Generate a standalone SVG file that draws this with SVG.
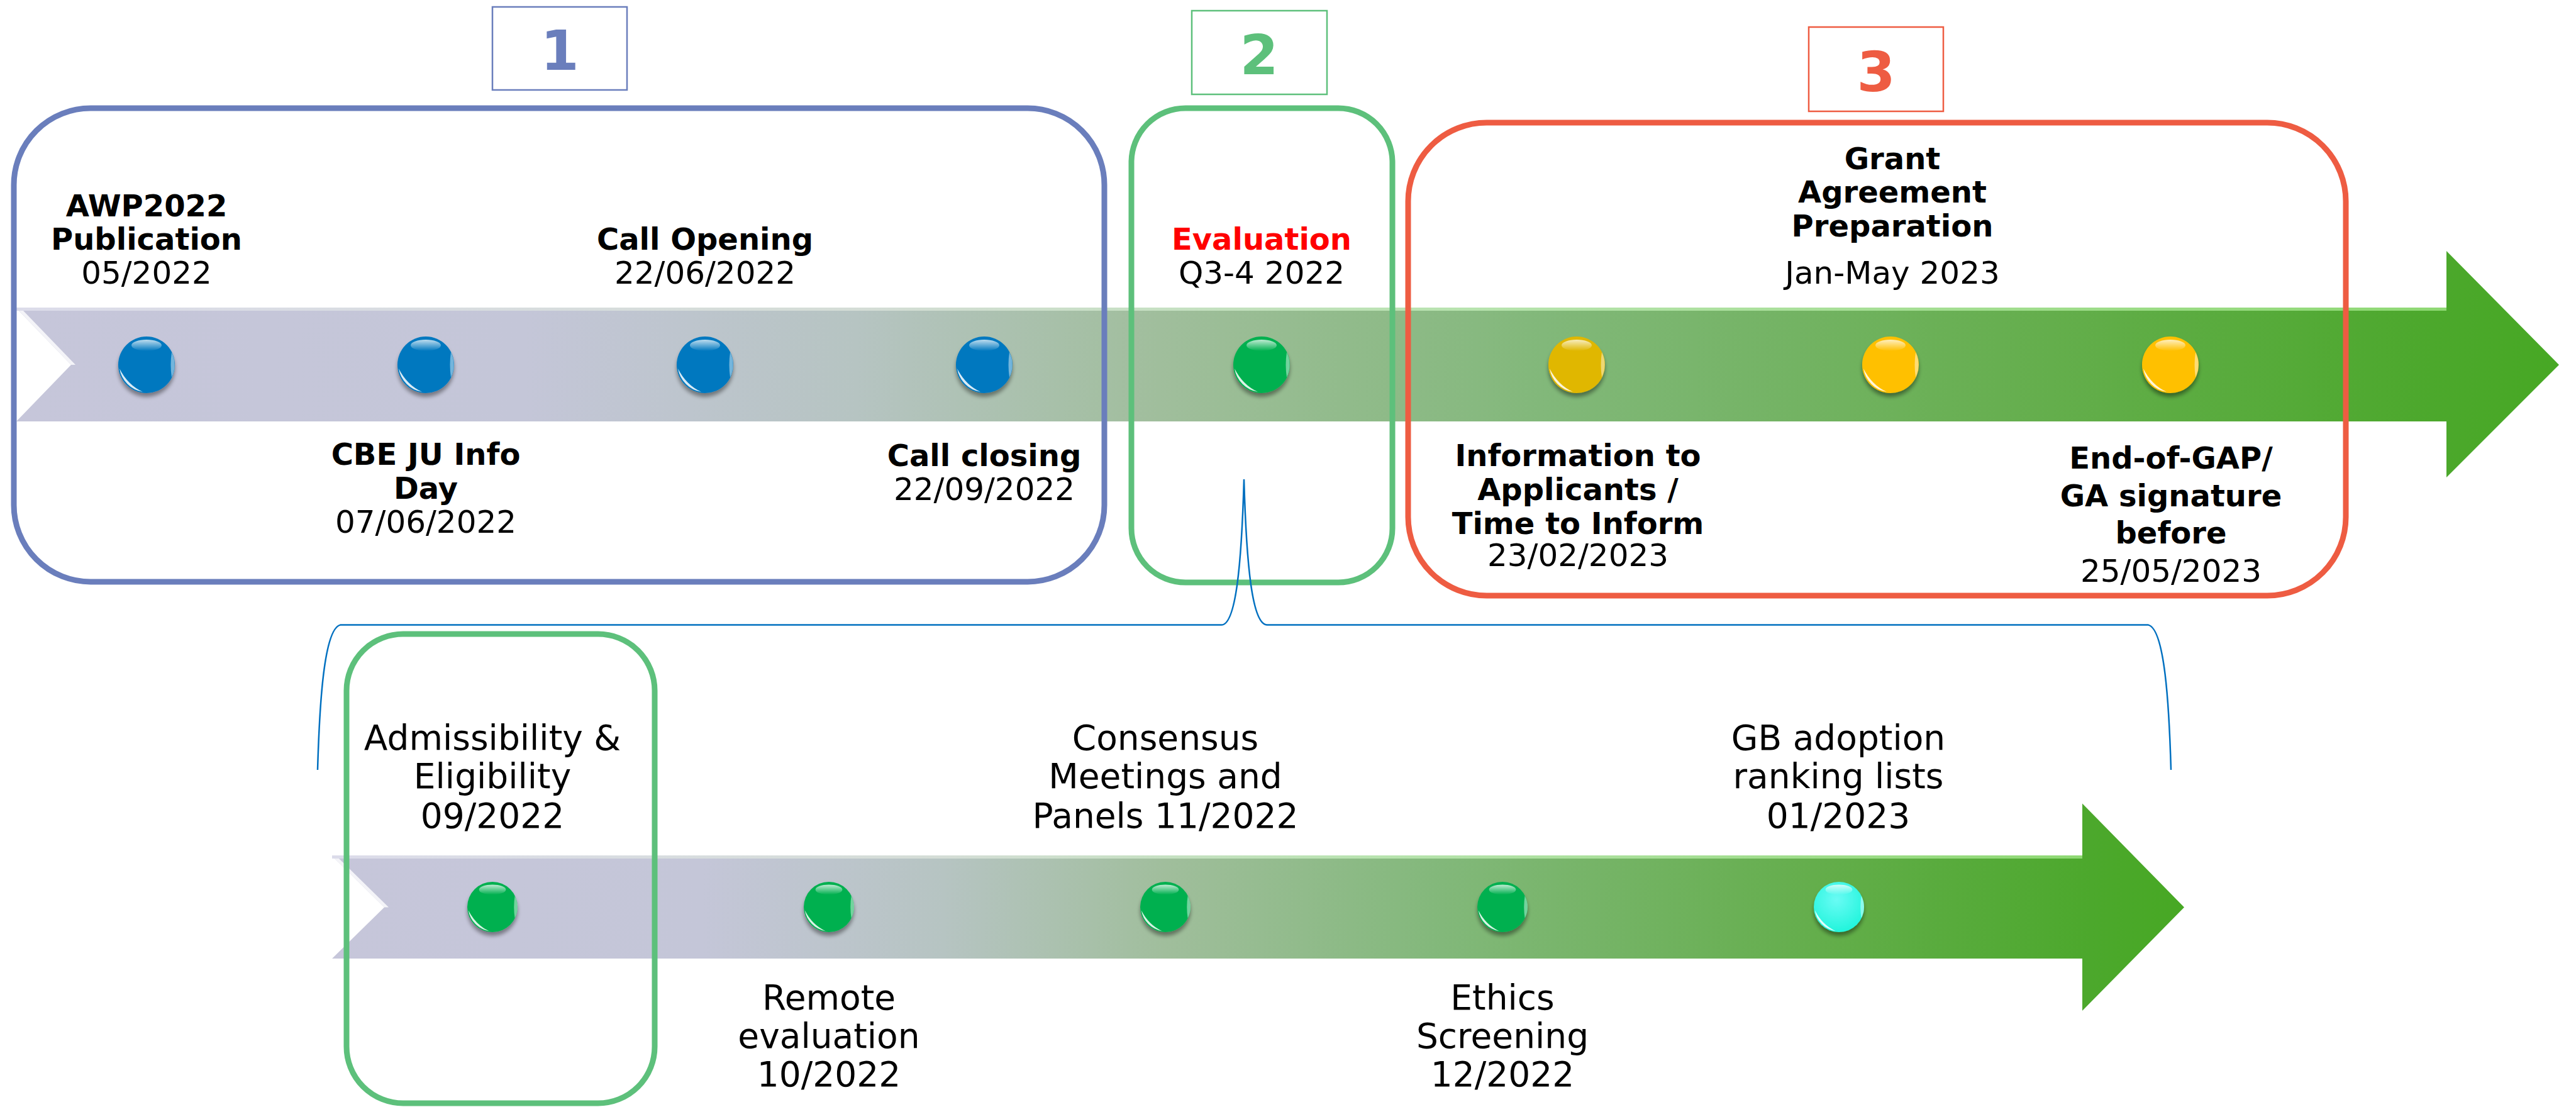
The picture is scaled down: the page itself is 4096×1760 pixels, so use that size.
<svg xmlns="http://www.w3.org/2000/svg" width="4096" height="1760" viewBox="0 0 4096 1760">
<defs>
  <linearGradient id="arrowGrad" x1="0" y1="0" x2="1" y2="0">
    <stop offset="0" stop-color="#C6C6DA"/>
    <stop offset="0.2" stop-color="#C4C6D8"/>
    <stop offset="0.33" stop-color="#B6C4C2"/>
    <stop offset="0.45" stop-color="#A0BE9C"/>
    <stop offset="0.6" stop-color="#82B87A"/>
    <stop offset="0.8" stop-color="#64AE4C"/>
    <stop offset="0.95" stop-color="#4CA82C"/>
    <stop offset="1" stop-color="#47A824"/>
  </linearGradient>
  <linearGradient id="edgeGrad" x1="0" y1="0" x2="1" y2="0">
    <stop offset="0" stop-color="#DCDCEA"/>
    <stop offset="0.35" stop-color="#D4DDD6"/>
    <stop offset="0.6" stop-color="#B7E3AE"/>
    <stop offset="1" stop-color="#8ED873"/>
  </linearGradient>
  <linearGradient id="topHi" x1="0" y1="0" x2="0" y2="1">
    <stop offset="0" stop-color="#FFFFFF" stop-opacity="0.75"/>
    <stop offset="1" stop-color="#FFFFFF" stop-opacity="0"/>
  </linearGradient>
  <radialGradient id="cyanFill" cx="0.45" cy="0.35" r="0.7">
    <stop offset="0" stop-color="#6AFBF4"/>
    <stop offset="1" stop-color="#1CF4DA"/>
  </radialGradient>
  <filter id="dotShadow" x="-40%" y="-40%" width="180%" height="190%">
    <feGaussianBlur in="SourceAlpha" stdDeviation="3"/>
    <feOffset dy="6" result="o"/>
    <feComponentTransfer in="o" result="s"><feFuncA type="linear" slope="0.4"/></feComponentTransfer>
    <feMerge><feMergeNode in="s"/><feMergeNode in="SourceGraphic"/></feMerge>
  </filter>
  <g id="gloss">
    <ellipse cx="0" cy="-31" rx="24" ry="9" fill="url(#topHi)"/>
    <path d="M-43,6 A45,45 0 0 0 -6,43 Q-30,32 -43,6 Z" fill="#FFFFFF" fill-opacity="0.85"/>
    <path d="M40,-20 A45,45 0 0 1 40,20 Q37,0 40,-20 Z" fill="#FFFFFF" fill-opacity="0.45"/>
  </g>
</defs>
<style>
  .t{font-family:"DejaVu Sans",Verdana,sans-serif;text-anchor:middle;fill:#000000}
  .b{font-weight:bold;font-size:48px}
  .r{font-size:50px}
  .lo{font-size:55px}
  .num{font-family:"DejaVu Sans",Verdana,sans-serif;font-weight:bold;font-size:88px;text-anchor:middle}
  .frame{fill:none;stroke-width:9}
  .nbox{fill:none;stroke-width:2.5}
  .blueDot{fill:#0078BF}
  .greenDot{fill:#00B050}
  .yellowDot{fill:#FFC000}
  .darkYellowDot{fill:#E0B700}
  .cyanDot{fill:url(#cyanFill)}
</style>

<!-- timeline arrows -->
<g id="arrows">
  <path d="M26,490 L3890,490 L3890,399 L4069,580 L3890,759 L3890,670 L26,670 L113,580 Z" fill="url(#arrowGrad)"/>
  <rect x="26" y="489" width="3864" height="5" fill="url(#edgeGrad)"/>
  <path d="M30,494 L113,580 L120,580 L37,494 Z" fill="#FFFFFF" fill-opacity="0.8"/>
  <path d="M528,1361 L3311,1361 L3311,1277.5 L3473,1442.5 L3311,1607 L3311,1524 L528,1524 L611,1442.5 Z" fill="url(#arrowGrad)"/>
  <rect x="528" y="1360" width="2783" height="5" fill="url(#edgeGrad)"/>
  <path d="M532,1365 L611,1442.5 L618,1442.5 L539,1365 Z" fill="#FFFFFF" fill-opacity="0.8"/>
</g>

<!-- phase frames -->
<g id="phase1">
  <rect class="frame" x="22" y="172" width="1734" height="753" rx="122" ry="122" stroke="#6A7EBC"/>
  <rect class="nbox" x="783" y="11" width="214" height="132" stroke="#6A7EBC"/>
  <text class="num" x="890" y="111" fill="#6A7EBC">1</text>
</g>
<g id="phase2">
  <rect class="frame" x="1799" y="172" width="415" height="754" rx="86" ry="86" stroke="#5DC07B"/>
  <rect class="nbox" x="1895" y="17" width="215" height="133" stroke="#5DC07B"/>
  <text class="num" x="2002" y="118" fill="#5DC07B">2</text>
</g>
<g id="phase3">
  <rect class="frame" x="2239" y="195" width="1491" height="752" rx="125" ry="125" stroke="#EE5C42"/>
  <rect class="nbox" x="2876" y="43" width="214" height="134" stroke="#EE5C42"/>
  <text class="num" x="2983" y="145" fill="#EE5C42">3</text>
</g>
<g id="admissibilityFrame">
  <rect class="frame" x="551" y="1008" width="490" height="746" rx="90" ry="90" stroke="#5DC07B"/>
</g>

<!-- connectors -->
<g id="connectors">
  <path d="M505,1224 C508,1120 515,1000 541,993.6 L1942,993.6 C1965,993.6 1974,900 1978,762 C1982,900 1991,993.6 2015,993.6 L3416,993.6 C3442,1000 3449,1120 3452,1224" fill="none" stroke="#0070C0" stroke-width="2.5"/>
</g>

<!-- top timeline events -->
<g id="awp2022">
  <circle class="blueDot" cx="233" cy="580" r="45" filter="url(#dotShadow)"/>
  <use href="#gloss" transform="translate(233,580)"/>
  <text class="t"><tspan class="b" x="233" y="344">AWP2022</tspan><tspan class="b" x="233" y="397">Publication</tspan><tspan class="r" x="233" y="451">05/2022</tspan></text>
</g>
<g id="infoDay">
  <circle class="blueDot" cx="677" cy="580" r="45" filter="url(#dotShadow)"/>
  <use href="#gloss" transform="translate(677,580)"/>
  <text class="t"><tspan class="b" x="677" y="739">CBE JU Info</tspan><tspan class="b" x="677" y="793">Day</tspan><tspan class="r" x="677" y="847">07/06/2022</tspan></text>
</g>
<g id="callOpening">
  <circle class="blueDot" cx="1121" cy="580" r="45" filter="url(#dotShadow)"/>
  <use href="#gloss" transform="translate(1121,580)"/>
  <text class="t"><tspan class="b" x="1121" y="397">Call Opening</tspan><tspan class="r" x="1121" y="451">22/06/2022</tspan></text>
</g>
<g id="callClosing">
  <circle class="blueDot" cx="1565" cy="580" r="45" filter="url(#dotShadow)"/>
  <use href="#gloss" transform="translate(1565,580)"/>
  <text class="t"><tspan class="b" x="1565" y="741">Call closing</tspan><tspan class="r" x="1565" y="795">22/09/2022</tspan></text>
</g>
<g id="evaluation">
  <circle class="greenDot" cx="2006" cy="580" r="45" filter="url(#dotShadow)"/>
  <use href="#gloss" transform="translate(2006,580)"/>
  <text class="t"><tspan class="b" x="2006" y="397" fill="#FF0000">Evaluation</tspan><tspan class="r" x="2006" y="451">Q3-4 2022</tspan></text>
</g>
<g id="informApplicants">
  <circle class="darkYellowDot" cx="2507" cy="580" r="45" filter="url(#dotShadow)"/>
  <use href="#gloss" transform="translate(2507,580)"/>
  <text class="t"><tspan class="b" x="2509" y="741">Information to</tspan><tspan class="b" x="2509" y="795">Applicants /</tspan><tspan class="b" x="2509" y="849">Time to Inform</tspan><tspan class="r" x="2509" y="900">23/02/2023</tspan></text>
</g>
<g id="grantPreparation">
  <circle class="yellowDot" cx="3006" cy="580" r="45" filter="url(#dotShadow)"/>
  <use href="#gloss" transform="translate(3006,580)"/>
  <text class="t"><tspan class="b" x="3009" y="269">Grant</tspan><tspan class="b" x="3009" y="322">Agreement</tspan><tspan class="b" x="3009" y="376">Preparation</tspan><tspan class="r" x="3009" y="451">Jan-May 2023</tspan></text>
</g>
<g id="gaSignature">
  <circle class="yellowDot" cx="3451" cy="580" r="45" filter="url(#dotShadow)"/>
  <use href="#gloss" transform="translate(3451,580)"/>
  <text class="t"><tspan class="b" x="3452" y="745">End-of-GAP/</tspan><tspan class="b" x="3452" y="805">GA signature</tspan><tspan class="b" x="3452" y="864">before</tspan><tspan class="r" x="3452" y="925">25/05/2023</tspan></text>
</g>

<!-- evaluation sub-timeline events -->
<g id="admissibility">
  <circle class="greenDot" cx="783" cy="1442" r="40" filter="url(#dotShadow)"/>
  <use href="#gloss" transform="translate(783,1442) scale(0.89)"/>
  <text class="t lo"><tspan x="783" y="1192">Admissibility &amp;</tspan><tspan x="783" y="1253">Eligibility</tspan><tspan x="783" y="1316">09/2022</tspan></text>
</g>
<g id="remoteEvaluation">
  <circle class="greenDot" cx="1318" cy="1442" r="40" filter="url(#dotShadow)"/>
  <use href="#gloss" transform="translate(1318,1442) scale(0.89)"/>
  <text class="t lo"><tspan x="1318" y="1605">Remote</tspan><tspan x="1318" y="1666">evaluation</tspan><tspan x="1318" y="1727">10/2022</tspan></text>
</g>
<g id="consensus">
  <circle class="greenDot" cx="1853" cy="1442" r="40" filter="url(#dotShadow)"/>
  <use href="#gloss" transform="translate(1853,1442) scale(0.89)"/>
  <text class="t lo"><tspan x="1853" y="1192">Consensus</tspan><tspan x="1853" y="1253">Meetings and</tspan><tspan x="1853" y="1316">Panels 11/2022</tspan></text>
</g>
<g id="ethics">
  <circle class="greenDot" cx="2389" cy="1442" r="40" filter="url(#dotShadow)"/>
  <use href="#gloss" transform="translate(2389,1442) scale(0.89)"/>
  <text class="t lo"><tspan x="2389" y="1605">Ethics</tspan><tspan x="2389" y="1666">Screening</tspan><tspan x="2389" y="1727">12/2022</tspan></text>
</g>
<g id="gbAdoption">
  <circle class="cyanDot" cx="2924" cy="1442" r="40" filter="url(#dotShadow)"/>
  <use href="#gloss" transform="translate(2924,1442) scale(0.89)"/>
  <text class="t lo"><tspan x="2923" y="1192">GB adoption</tspan><tspan x="2923" y="1253">ranking lists</tspan><tspan x="2923" y="1316">01/2023</tspan></text>
</g>
</svg>
